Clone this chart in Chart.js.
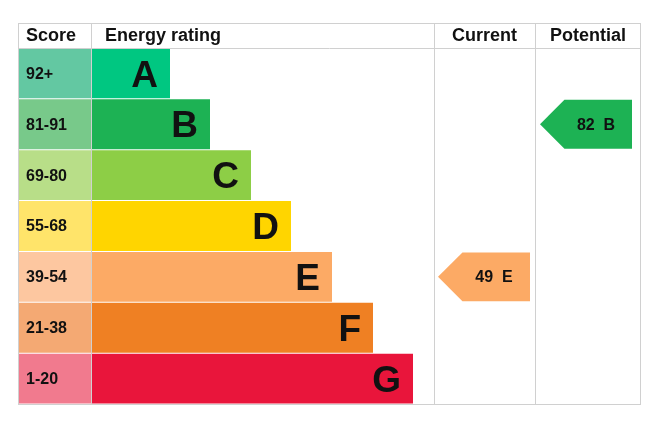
<!DOCTYPE html>
<html><head><meta charset="utf-8">
<script src="https://cdn.jsdelivr.net/npm/chart.js@4"></script>
<style>html,body{margin:0;padding:0;background:#fff}#w{width:650px;height:425px}</style>
</head><body><div id="w"><canvas id="c"></canvas></div>
<script>
const bands = ['A','B','C','D','E','F','G'];
const scoreLabels = ['92+','81-91','69-80','55-68','39-54','21-38','1-20'];
const bandColors = ['#00c781','#1db254','#8dce46','#ffd500','#fcaa65','#ef8023','#e9153b'];
const scoreColors = ['#63c8a2','#78c98a','#b8de88','#ffe46a','#fdc7a0','#f4a973','#f17a8e'];
const barEnds = [152,192,233,273,314,355,395];
const currentScore = 49, currentBand = 'E';
const potentialScore = 82, potentialBand = 'B';
const headers = ['Score','Energy rating','Current','Potential'];
const FONT = 'Arial, "Liberation Sans", sans-serif';

const overlay = {
  id:'overlay',
  afterDatasetsDraw(chart){
    const {ctx, chartArea:a, scales:{x,y}} = chart;
    const rowH = (a.bottom-a.top)/bands.length;
    ctx.save();
    ctx.textBaseline='middle';
    bands.forEach((b,i)=>{
      const cy = y.getPixelForValue(i);
      ctx.fillStyle='#111'; ctx.font='bold 16px '+FONT; ctx.textAlign='left';
      ctx.fillText(scoreLabels[i], x.getPixelForValue(0)+8, cy+1);
      ctx.font='bold 37px '+FONT; ctx.textAlign='right';
      ctx.fillText(b, x.getPixelForValue(barEnds[i])-12, cy+3);
    });
    function arrow(x0,x1,bi,label,col){
      const cy=y.getPixelForValue(bi), h=rowH-2;
      const l=x.getPixelForValue(x0), r=x.getPixelForValue(x1);
      ctx.fillStyle=col; ctx.beginPath();
      ctx.moveTo(l,cy); ctx.lineTo(l+h/2,cy-h/2); ctx.lineTo(r,cy-h/2); ctx.lineTo(r,cy+h/2); ctx.lineTo(l+h/2,cy+h/2); ctx.closePath(); ctx.fill();
      ctx.fillStyle='#111'; ctx.font='bold 16px '+FONT; ctx.textAlign='center';
      ctx.fillText(label,(l+r)/2+10,cy+1);
    }
    const ci=bands.indexOf(currentBand), pi=bands.indexOf(potentialBand);
    arrow(420,512,ci,currentScore+'  '+currentBand,bandColors[ci]);
    arrow(522,614,pi,potentialScore+'  '+potentialBand,bandColors[pi]);
    // grid
    ctx.strokeStyle='#d0d0d0'; ctx.lineWidth=1;
    const top=a.top-25;
    ctx.strokeRect(a.left+0.5,top+0.5,a.right-a.left-1,a.bottom-top);
    ctx.beginPath(); ctx.moveTo(a.left,a.top+0.5); ctx.lineTo(a.right,a.top+0.5);
    [73,416,517].forEach(v=>{const px=Math.round(x.getPixelForValue(v))+0.5; ctx.moveTo(px,top); ctx.lineTo(px,a.bottom);});
    ctx.stroke();
    ctx.fillStyle='#111'; ctx.font='bold 18px '+FONT; ctx.textAlign='left';
    const hy=top+13;
    ctx.fillText(headers[0],x.getPixelForValue(0)+8,hy);
    ctx.fillText(headers[1],x.getPixelForValue(73)+14,hy);
    ctx.textAlign='center';
    ctx.fillText(headers[2],x.getPixelForValue(466.5),hy);
    ctx.fillText(headers[3],x.getPixelForValue(570),hy);
    ctx.restore();
  }
};

new Chart(document.getElementById('c'),{
  type:'bar',
  data:{labels:bands,datasets:[
    {data:bands.map(()=>[0,73]),backgroundColor:scoreColors,grouped:false,barPercentage:0.98,categoryPercentage:1},
    {data:barEnds.map(e=>[73,e]),backgroundColor:bandColors,grouped:false,barPercentage:0.98,categoryPercentage:1}
  ]},
  options:{indexAxis:'y',responsive:true,maintainAspectRatio:false,animation:false,
    layout:{padding:{left:18,right:9,top:48,bottom:21}},
    plugins:{legend:{display:false},tooltip:{enabled:false}},
    scales:{x:{display:false,min:0,max:623},y:{display:false,offset:true}}},
  plugins:[overlay]
});
</script></body></html>
